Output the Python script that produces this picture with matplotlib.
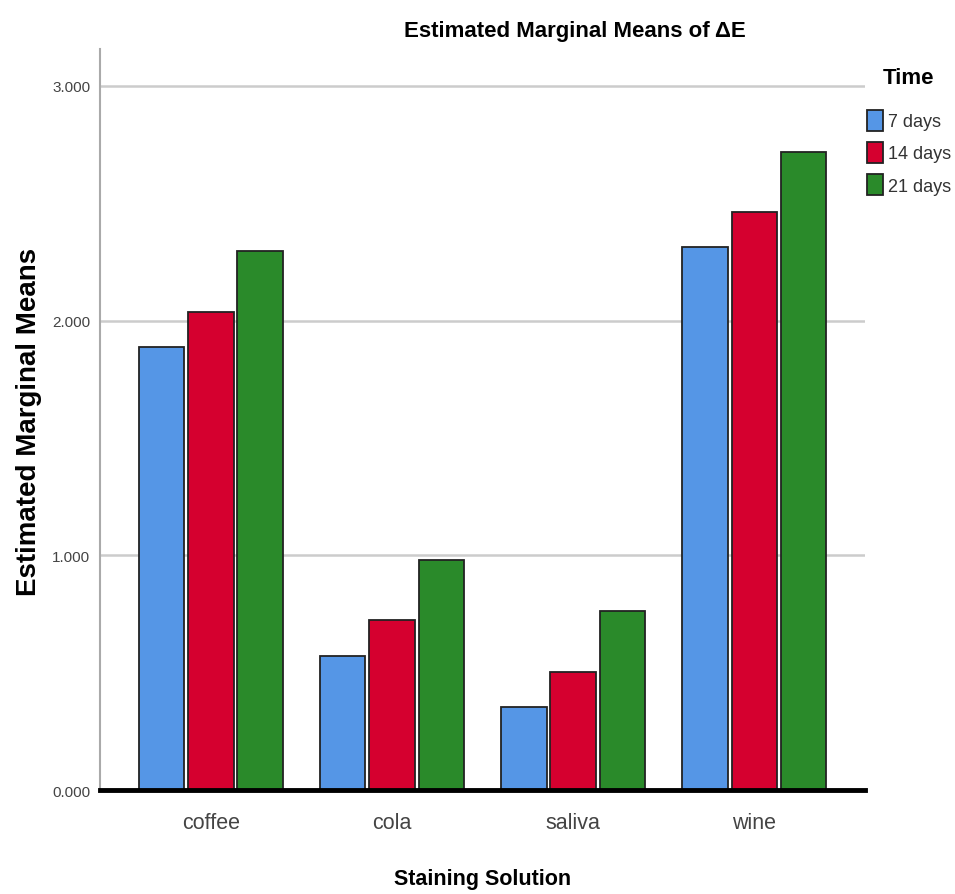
import numpy as np
import matplotlib.pyplot as plt
from matplotlib.patches import Patch

solutions = ['coffee', 'cola', 'saliva', 'wine']
times = ['7 days', '14 days', '21 days']
days_7 = [1.888, 0.572, 0.352, 2.312]
days_14 = [2.037, 0.724, 0.504, 2.464]
days_21 = [2.298, 0.981, 0.761, 2.720]
series = [days_7, days_14, days_21]
colors = ['#5596e6', '#d5002f', '#2a8a2a']

font = ['Liberation Sans', 'DejaVu Sans']

fig = plt.figure(figsize=(9.55, 8.95), dpi=100)
ax = fig.add_axes([0.1047, 0.1162, 0.8011, 0.8279])

x = np.arange(len(solutions))
width = 0.249
step = 0.271
for i, (vals, col) in enumerate(zip(series, colors)):
    ax.bar(x + (i - 1) * step, vals, width, color=col, edgecolor='#222222',
           linewidth=1.3, zorder=3)

ax.set_xlim(-0.613, 3.613)
ax.set_ylim(0, 3.157)
ax.set_yticks([0, 1, 2, 3])
ax.set_yticklabels(['0.000', '1.000', '2.000', '3.000'], family=font,
                   fontsize=11, color='#444444')
ax.set_xticks(x)
ax.set_xticklabels(solutions, family=font, fontsize=15.5, color='#444444')
ax.tick_params(axis='both', length=0)
ax.tick_params(axis='x', pad=16)
ax.tick_params(axis='y', pad=7)
ax.grid(axis='y', color='#cccccc', linewidth=1.8, zorder=0)

for s in ['top', 'right']:
    ax.spines[s].set_visible(False)
ax.spines['left'].set_color('#aaaaaa')
ax.spines['left'].set_linewidth(1.5)
ax.spines['bottom'].set_color('black')
ax.spines['bottom'].set_linewidth(3.5)
ax.spines['bottom'].set_zorder(4)

fig.text(575 / 955, 1 - 31 / 895, 'Estimated Marginal Means of ΔE',
         family=font, fontsize=16, fontweight='bold', ha='center', va='center')
fig.text(29 / 955, 1 - 422 / 895, 'Estimated Marginal Means', family=font,
         fontsize=20, fontweight='bold', rotation=90, ha='center', va='center')
fig.text(483 / 955, 1 - 880 / 895, 'Staining Solution', family=font,
         fontsize=15.5, fontweight='bold', ha='center', va='center')
fig.text(908 / 955, 1 - 79 / 895, 'Time', family=font,
         fontsize=16, fontweight='bold', ha='center', va='center')

handles = [Patch(facecolor=c, edgecolor='#222222', linewidth=1.3) for c in colors]
leg = fig.legend(handles, times, loc='upper left',
                 bbox_to_anchor=(867 / 955, 1 - 111 / 895), frameon=False,
                 prop={'family': font, 'size': 13},
                 handlelength=0.9, handleheight=1.4, handletextpad=0.25,
                 labelspacing=0.62, borderaxespad=0, borderpad=0)
for t in leg.get_texts():
    t.set_color('#333333')

fig.savefig('out.png', dpi=100)
